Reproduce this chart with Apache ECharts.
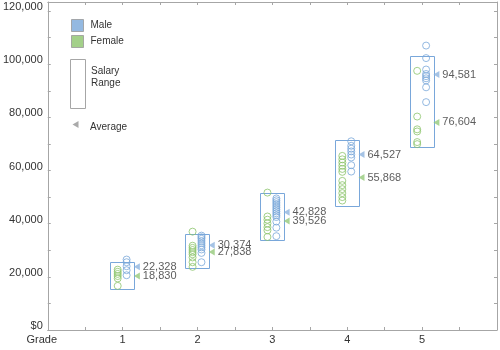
<!DOCTYPE html>
<html>
<head>
<meta charset="utf-8">
<script src="https://cdn.jsdelivr.net/npm/echarts@6/dist/echarts.min.js"></script>
<style>html,body{margin:0;padding:0;background:#fff}#c{width:500px;height:350px}</style>
</head>
<body>
<div id="c"></div>
<script>
// ---- data ----
const grades = [1, 2, 3, 4, 5];
const xTickLabels = ['Grade', '1', '2', '3', '4', '5'];
const yTickValues = [0, 20000, 40000, 60000, 80000, 100000, 120000];
const yMinorTicks = [-1500, 8500, 18500, 28500, 38500, 48500, 58500, 68500, 78500, 88500, 98500, 108500, 118500];

const rangeMin = [14000, 22000, 32500, 45000, 67500];
const rangeMax = [24000, 34500, 50000, 70000, 101500];

const maleAvg = [22328, 30374, 42828, 64527, 94581];
const femaleAvg = [18830, 27838, 39526, 55868, 76604];

const maleGrade1 = [25000, 24000, 22500, 21000, 19100];
const maleGrade2 = [34000, 33400, 32800, 32000, 31200, 30400, 29600, 28800, 27500, 24000];
const maleGrade3 = [48000, 47300, 46600, 45900, 45200, 44500, 43800, 43100, 42400, 41700, 41000, 39300, 37000, 33800];
const maleGrade4 = [69500, 67800, 66700, 65700, 64500, 63400, 60500, 58100];
const maleGrade5 = [105500, 100800, 96500, 94800, 94000, 93200, 92400, 89800, 84229];

const femaleGrade1 = [21200, 20400, 19600, 18800, 17900, 15100];
const femaleGrade2 = [35500, 30200, 29400, 28600, 27800, 27000, 25800, 24000, 22250];
const femaleGrade3 = [50200, 41200, 40000, 38600, 37200, 36000, 33500];
const femaleGrade4 = [64000, 62700, 61500, 60300, 59100, 58000, 54600, 53000, 51500, 50000, 48500, 47200];
const femaleGrade5 = [96000, 78800, 74000, 73200, 69200, 68424];

const maleByGrade = [maleGrade1, maleGrade2, maleGrade3, maleGrade4, maleGrade5];
const femaleByGrade = [femaleGrade1, femaleGrade2, femaleGrade3, femaleGrade4, femaleGrade5];

// ---- styles ----
const BLUE = '#79a7da';
const GREEN = '#8cc46c';
const AXIS = '#a6a6a6';
const TEXT = '#333';
const FONT = '"Liberation Sans", Arial, sans-serif';
const MALE_DX = 0.053, FEMALE_DX = -0.066, AVG_DX = 0.19;

const maleData = [], femaleData = [];
grades.forEach((g, i) => {
  maleByGrade[i].forEach(v => maleData.push([g + MALE_DX, v]));
  femaleByGrade[i].forEach(v => femaleData.push([g + FEMALE_DX, v]));
});
const rangeData = grades.map((g, i) => [g, rangeMin[i], rangeMax[i]]);
const maleAvgData = grades.map((g, i) => [g + AVG_DX, maleAvg[i]]);
const femaleAvgData = grades.map((g, i) => [g + AVG_DX, femaleAvg[i]]);

const fmt = v => Math.round(v).toLocaleString('en-US');

const chart = echarts.init(document.getElementById('c'), null, {renderer: 'canvas'});
const avgLabel = {
  show: true, position: 'right', distance: 3,
  formatter: p => fmt(p.value[1]),
  fontSize: 11, color: TEXT, fontFamily: FONT
};
const lineStyle = {color: AXIS, width: 1};
chart.setOption({
  animation: false,
  backgroundColor: '#fff',
  textStyle: {fontFamily: FONT},
  grid: {left: 45, right: 2, top: 2, bottom: 20, containLabel: false},
  legend: {
    orient: 'vertical', left: 71, top: 19, padding: 0,
    itemWidth: 12, itemHeight: 12, itemGap: 3,
    textStyle: {fontSize: 10, color: TEXT, fontFamily: FONT, padding: [0, 0, 0, 2]},
    data: [
      {name: 'Male', icon: 'rect', itemStyle: {color: BLUE, borderColor: '#999', borderWidth: 1}},
      {name: 'Female', icon: 'rect', itemStyle: {color: GREEN, borderColor: '#999', borderWidth: 1}}
    ],
    selectedMode: false
  },
  graphic: [
    {type: 'rect', left: 70, top: 59, shape: {width: 15, height: 49}, style: {fill: '#fff', stroke: '#a6a6a6', lineWidth: 1}},
    {type: 'text', left: 91, top: 65, style: {text: 'Salary\nRange', font: '10px ' + FONT, fill: TEXT, lineHeight: 12}},
    {type: 'polygon', shape: {points: [[72.5, 124.5], [78.5, 121], [78.5, 128]]}, style: {fill: '#aaaaaa'}},
    {type: 'text', left: 90, top: 122, style: {text: 'Average', font: '10px ' + FONT, fill: TEXT}}
  ],
  xAxis: [
    {
      type: 'value', position: 'bottom', min: 0, max: 6, interval: 0.5,
      axisLine: {onZero: false, lineStyle},
      axisTick: {inside: true, length: 3, lineStyle},
      splitLine: {show: false},
      axisLabel: {
        fontSize: 11, color: TEXT, margin: 4, fontFamily: FONT,
        formatter: v => v === 0 ? '{g|' + xTickLabels[0] + '}' : ((Number.isInteger(v) && v <= 5) ? xTickLabels[v] : ''),
        rich: {g: {fontSize: 11, color: TEXT, fontFamily: FONT, padding: [0, 12, 0, 0]}}
      }
    },
    {
      type: 'value', position: 'top', min: 0, max: 6, interval: 0.5,
      axisLine: {onZero: false, lineStyle},
      axisTick: {inside: true, length: 3, lineStyle},
      splitLine: {show: false}, axisLabel: {show: false}
    }
  ],
  yAxis: [
    {
      type: 'value', position: 'left', min: -1500, max: 121900,
      axisLine: {show: true, onZero: false, lineStyle},
      axisTick: {show: true, inside: true, length: 3, lineStyle, customValues: yMinorTicks},
      splitLine: {show: false},
      axisLabel: {
        fontSize: 11, color: TEXT, margin: 5, fontFamily: FONT,
        customValues: yTickValues,
        formatter: v => v === 0 ? '$0' : fmt(v)
      }
    },
    {
      type: 'value', position: 'right', min: -1500, max: 121900,
      axisLine: {show: true, onZero: false, lineStyle},
      axisTick: {show: true, inside: true, length: 3, lineStyle, customValues: yMinorTicks},
      splitLine: {show: false}, axisLabel: {show: false}
    }
  ],
  series: [
    {
      name: 'Salary Range', type: 'custom', xAxisIndex: 0, yAxisIndex: 0, z: 1,
      data: rangeData,
      renderItem: (params, api) => {
        const g = api.value(0), lo = api.value(1), hi = api.value(2);
        const p1 = api.coord([g - 0.168, hi]);
        const p2 = api.coord([g + 0.152, lo]);
        const x = Math.round(p1[0]) + 0.5, y = Math.round(p1[1]) + 0.5;
        const w = Math.round(p2[0]) - Math.round(p1[0]);
        const h = Math.round(p2[1]) - Math.round(p1[1]);
        return {type: 'rect', shape: {x, y, width: w, height: h},
          style: {fill: 'none', stroke: BLUE, lineWidth: 1}};
      }
    },
    {
      name: 'Female', type: 'scatter', z: 3, data: femaleData,
      symbol: 'circle', symbolSize: 7,
      itemStyle: {color: 'rgba(0,0,0,0)', borderColor: GREEN, borderWidth: 1}
    },
    {
      name: 'Male', type: 'scatter', z: 3, data: maleData,
      symbol: 'circle', symbolSize: 7,
      itemStyle: {color: 'rgba(0,0,0,0)', borderColor: BLUE, borderWidth: 1}
    },
    {
      name: 'Male Average', type: 'scatter', z: 4, data: maleAvgData,
      symbol: 'triangle', symbolRotate: 90, symbolSize: [7, 6],
      itemStyle: {color: '#8fb4de'}, label: avgLabel
    },
    {
      name: 'Female Average', type: 'scatter', z: 4, data: femaleAvgData,
      symbol: 'triangle', symbolRotate: 90, symbolSize: [7, 6],
      itemStyle: {color: '#95c97a'}, label: avgLabel
    }
  ]
});
</script>
</body>
</html>
